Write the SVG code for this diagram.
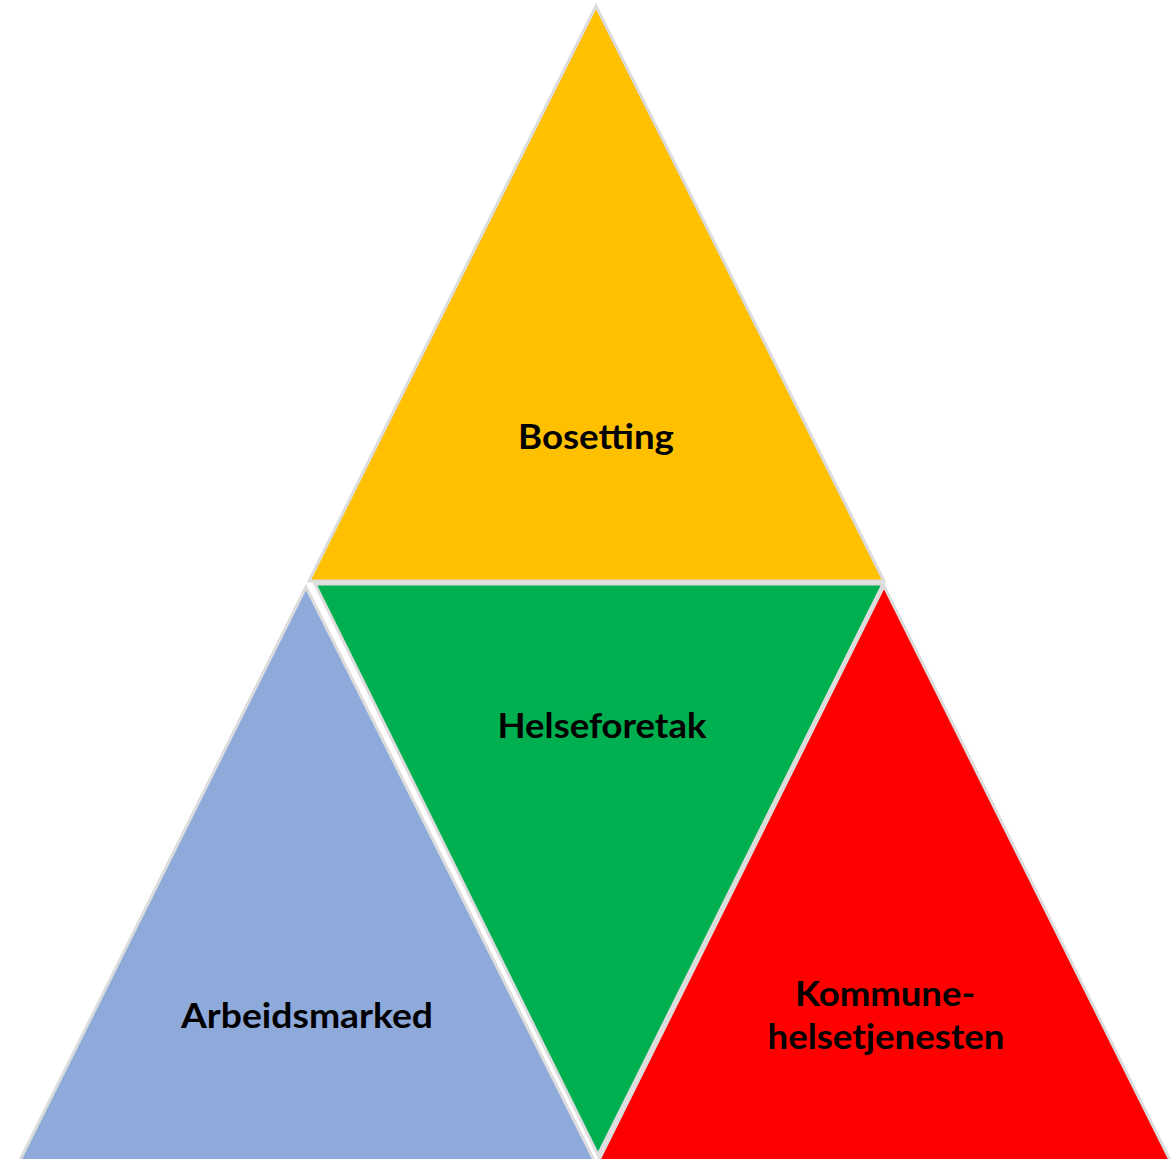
<svg xmlns="http://www.w3.org/2000/svg" width="1173" height="1159" viewBox="0 0 1173 1159">
<style>
.tri{stroke:#dcdcdc;stroke-width:3;stroke-linejoin:miter}
.lbl{font-family:Lato,"Open Sans","Liberation Sans",sans-serif;font-weight:bold;font-size:35px;fill:#000;text-anchor:middle}
</style>
<rect width="1173" height="1159" fill="#fff"/>
<g id="bosetting">
<polygon class="tri" points="596,6 309,581 884,581" fill="#ffc000"/>
<text class="lbl" x="596" y="449" textLength="156" lengthAdjust="spacingAndGlyphs">Bosetting</text>
</g>
<g id="helseforetak">
<polygon class="tri" points="315,584 883,584 598,1155" fill="#00b050"/>
<text class="lbl" x="602" y="738" textLength="209" lengthAdjust="spacingAndGlyphs">Helseforetak</text>
</g>
<g id="arbeidsmarked">
<polygon class="tri" points="306,587 19,1162 595,1162" fill="#8eaadb"/>
<text class="lbl" x="307" y="1028" textLength="252" lengthAdjust="spacingAndGlyphs">Arbeidsmarked</text>
</g>
<g id="kommunehelsetjenesten">
<polygon class="tri" points="884,586 598,1162 1171,1162" fill="#ff0000"/>
<text class="lbl" x="885" y="1006" textLength="180" lengthAdjust="spacingAndGlyphs">Kommune-</text>
<text class="lbl" x="886" y="1049" textLength="237" lengthAdjust="spacingAndGlyphs">helsetjenesten</text>
</g>
<g id="connectors"/>
</svg>
